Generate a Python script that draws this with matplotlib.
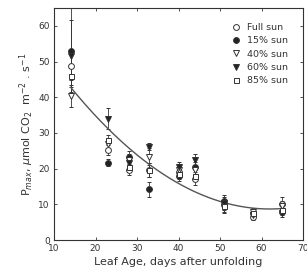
import numpy as np
import matplotlib
matplotlib.use("Agg")
import matplotlib.pyplot as plt
from matplotlib.lines import Line2D

plt.rcParams['font.family'] = ['DejaVu Sans']

days = [14, 23, 28, 33, 40, 44, 51, 58, 65]
labels = ['Full sun', '15% sun', '40% sun', '60% sun', '85% sun']
full_sun = [48.7, 25.3, 19.7, 19.7, 19.0, 17.0, 10.0, 6.5, 10.0]
sun15 = [53.0, 21.7, 23.4, 14.2, 18.0, 20.5, 11.0, 7.5, 8.0]
sun40 = [40.3, 27.0, 22.5, 23.4, 19.5, 19.5, 9.0, 8.0, 9.5]
sun60 = [51.5, 34.0, 21.5, 26.2, 20.5, 22.5, 10.5, 7.0, 7.5]
sun85 = [46.0, 28.0, 20.6, 19.7, 18.5, 18.0, 9.5, 7.5, 8.5]
err_full = [4.0, 1.5, 1.5, 2.0, 1.5, 1.5, 1.5, 1.0, 2.0]
err15 = [12.0, 1.0, 1.5, 2.0, 1.5, 1.5, 1.5, 1.0, 1.0]
err40 = [3.0, 1.5, 1.5, 2.5, 1.5, 1.5, 1.5, 1.0, 1.5]
err60 = [10.0, 3.0, 2.0, 1.0, 1.5, 1.5, 1.5, 1.0, 1.0]
err85 = [3.0, 1.5, 1.5, 2.0, 1.5, 1.5, 1.5, 1.0, 1.0]
# fitted curve: y = k + c*(x-h)^2
fit_h, fit_k, fit_c = 62.0, 8.7, 0.0148

series = [full_sun, sun15, sun40, sun60, sun85]
errs = [err_full, err15, err40, err60, err85]
markers = ['o', 'o', 'v', 'v', 's']
fills = ['white', '#222222', 'white', '#222222', 'white']
sizes = [4.2, 4.2, 4.0, 4.0, 3.6]

col = '#333333'
fig = plt.figure(figsize=(3.07, 2.75), dpi=100)
ax = fig.add_axes([0.176, 0.127, 0.811, 0.844])

for ys, es, m, fc, ms in zip(series, errs, markers, fills, sizes):
    ax.errorbar(days, ys, yerr=es, fmt=m, mfc=fc, mec=col, color=col, ms=ms,
                mew=0.7, elinewidth=0.6, capsize=1.3, capthick=0.6)

xf = np.linspace(14, 65, 200)
ax.plot(xf, fit_k + fit_c * (xf - fit_h) ** 2, color='#555555', lw=1.0)

ax.set_xlim(10, 70)
ax.set_ylim(0, 65)
ax.set_xticks(range(10, 71, 10))
ax.set_yticks(range(0, 61, 10))
ax.tick_params(direction='in', top=True, right=True, labelsize=6.5, length=2.5,
               width=0.6, colors=col, pad=3)
for s in ax.spines.values():
    s.set_color(col)
    s.set_linewidth(0.8)

ax.set_xlabel('Leaf Age, days after unfolding', fontsize=8, color=col, labelpad=3)
ax.set_ylabel(r'P$_{max}$, $\mu$mol CO$_2$  m$^{-2}$ . s$^{-1}$', fontsize=8,
              color=col, labelpad=2)

handles = [Line2D([], [], ls='none', marker=m, mfc=fc, mec=col, ms=ms, mew=0.7)
           for m, fc, ms in zip(markers, fills, sizes)]
leg = ax.legend(handles, labels, loc='upper right', frameon=False, fontsize=6.8,
                handlelength=0.8, handletextpad=0.8, labelspacing=0.45,
                borderaxespad=1.2)
for t in leg.get_texts():
    t.set_color(col)

fig.savefig('out.png', dpi=100, facecolor='white')
